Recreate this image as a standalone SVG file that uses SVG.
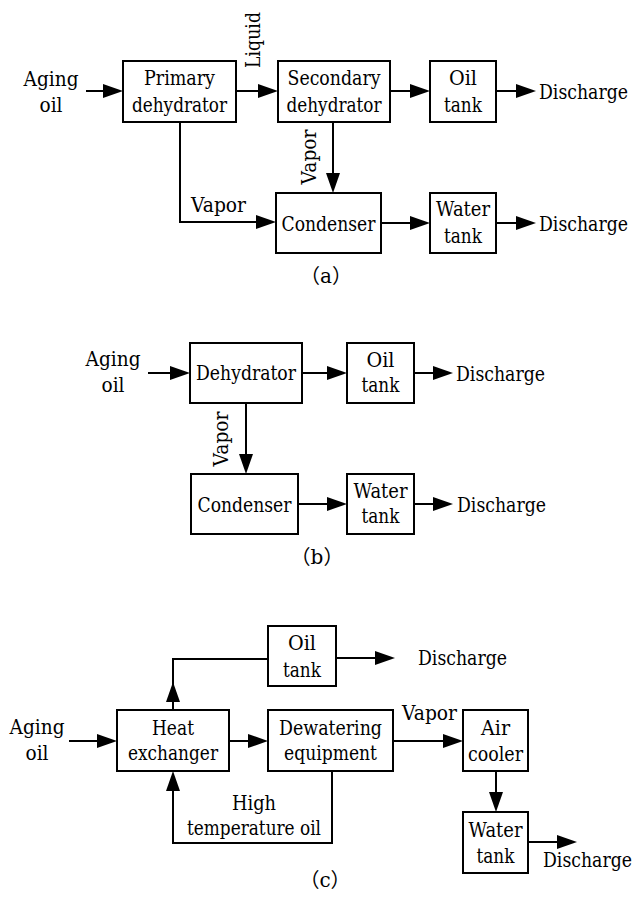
<svg xmlns="http://www.w3.org/2000/svg" width="637" height="900" viewBox="0 0 637 900">
<style>
.box{fill:#fff;stroke:#000;stroke-width:2}
.t{font-family:"DejaVu Serif",serif;font-size:20px;fill:#000;text-anchor:middle}
.s{text-anchor:start}
.cap{font-family:"DejaVu Serif","Noto Sans CJK SC",serif;font-size:20px;fill:#000;text-anchor:middle}
.c{fill:none;stroke:#000;stroke-width:2}
.a{marker-end:url(#ah)}
</style>
<defs>
<marker id="ah" markerUnits="userSpaceOnUse" markerWidth="20" markerHeight="14" viewBox="0 0 20 14" refX="17" refY="7" orient="auto">
<path d="M0,0 L20,7 L0,14 z" fill="#000"/>
</marker>
</defs>
<rect width="637" height="900" fill="#fff"/>

<g id="connectors">
<path class="c a" d="M86,91 H120"/>
<path class="c a" d="M236,91 H275"/>
<path class="c a" d="M390,91 H427"/>
<path class="c a" d="M496,91 H533"/>
<path class="c a" d="M180,122 V222 H273"/>
<path class="c a" d="M333,122 V190"/>
<path class="c a" d="M381,223 H427"/>
<path class="c a" d="M496,223 H533"/>
<path class="c a" d="M148,373 H187"/>
<path class="c a" d="M302,373 H344"/>
<path class="c a" d="M414,373 H450"/>
<path class="c a" d="M246,403 V471"/>
<path class="c a" d="M298,504 H344"/>
<path class="c a" d="M414,504 H450"/>
<path class="c a" d="M69,741 H114"/>
<path class="c a" d="M229,741 H265"/>
<path class="c a" d="M393,741 H460"/>
<path class="c" d="M173,710 V659 H268"/>
<path class="c a" d="M173,700 V685"/>
<path class="c a" d="M336,658 H392"/>
<path class="c a" d="M332,771 V843 H173 V774"/>
<path class="c a" d="M496,771 V809"/>
<path class="c a" d="M528,842 H574"/>
</g>

<g id="labels">
<text class="t" x="51" y="86" textLength="55" lengthAdjust="spacingAndGlyphs">Aging</text>
<text class="t" x="51" y="112" textLength="23" lengthAdjust="spacingAndGlyphs">oil</text>
<text class="t" transform="translate(260,40) rotate(-90)" textLength="56" lengthAdjust="spacingAndGlyphs">Liquid</text>
<text class="t" transform="translate(316,157) rotate(-90)" textLength="55" lengthAdjust="spacingAndGlyphs">Vapor</text>
<text class="t s" x="191" y="212" textLength="55" lengthAdjust="spacingAndGlyphs">Vapor</text>
<text class="t s" x="539" y="99" textLength="89" lengthAdjust="spacingAndGlyphs">Discharge</text>
<text class="t s" x="539" y="231" textLength="89" lengthAdjust="spacingAndGlyphs">Discharge</text>
<text class="cap" x="326" y="283">（a）</text>

<text class="t" x="113" y="366" textLength="55" lengthAdjust="spacingAndGlyphs">Aging</text>
<text class="t" x="113" y="392" textLength="23" lengthAdjust="spacingAndGlyphs">oil</text>
<text class="t" transform="translate(228,439) rotate(-90)" textLength="55" lengthAdjust="spacingAndGlyphs">Vapor</text>
<text class="t s" x="456" y="381" textLength="89" lengthAdjust="spacingAndGlyphs">Discharge</text>
<text class="t s" x="457" y="512" textLength="89" lengthAdjust="spacingAndGlyphs">Discharge</text>
<text class="cap" x="317" y="564">（b）</text>

<text class="t" x="37" y="734" textLength="55" lengthAdjust="spacingAndGlyphs">Aging</text>
<text class="t" x="37" y="760" textLength="23" lengthAdjust="spacingAndGlyphs">oil</text>
<text class="t s" x="418" y="665" textLength="89" lengthAdjust="spacingAndGlyphs">Discharge</text>
<text class="t s" x="402" y="720" textLength="55" lengthAdjust="spacingAndGlyphs">Vapor</text>
<text class="t" x="254" y="810" textLength="44" lengthAdjust="spacingAndGlyphs">High</text>
<text class="t" x="254" y="835" textLength="134" lengthAdjust="spacingAndGlyphs">temperature oil</text>
<text class="t s" x="543" y="867" textLength="89" lengthAdjust="spacingAndGlyphs">Discharge</text>
<text class="cap" x="325" y="887">（c）</text>
</g>

<g id="a-primary"><rect class="box" x="123" y="61" width="113" height="61"/><text class="t" x="179.5" y="85" textLength="71" lengthAdjust="spacingAndGlyphs">Primary</text><text class="t" x="179.5" y="112" textLength="95" lengthAdjust="spacingAndGlyphs">dehydrator</text></g>
<g id="a-secondary"><rect class="box" x="278" y="61" width="112" height="61"/><text class="t" x="334" y="85" textLength="93" lengthAdjust="spacingAndGlyphs">Secondary</text><text class="t" x="334" y="112" textLength="95" lengthAdjust="spacingAndGlyphs">dehydrator</text></g>
<g id="a-oiltank"><rect class="box" x="430" y="61" width="66" height="61"/><text class="t" x="463" y="85" textLength="28" lengthAdjust="spacingAndGlyphs">Oil</text><text class="t" x="463" y="112" textLength="38" lengthAdjust="spacingAndGlyphs">tank</text></g>
<g id="a-condenser"><rect class="box" x="276" y="193" width="105" height="60"/><text class="t" x="328.5" y="231" textLength="94" lengthAdjust="spacingAndGlyphs">Condenser</text></g>
<g id="a-watertank"><rect class="box" x="430" y="193" width="66" height="60"/><text class="t" x="463" y="216" textLength="54" lengthAdjust="spacingAndGlyphs">Water</text><text class="t" x="463" y="243" textLength="38" lengthAdjust="spacingAndGlyphs">tank</text></g>

<g id="b-dehydrator"><rect class="box" x="190" y="343" width="112" height="60"/><text class="t" x="246" y="380" textLength="100" lengthAdjust="spacingAndGlyphs">Dehydrator</text></g>
<g id="b-oiltank"><rect class="box" x="347" y="343" width="67" height="60"/><text class="t" x="380.5" y="367" textLength="28" lengthAdjust="spacingAndGlyphs">Oil</text><text class="t" x="380.5" y="392" textLength="38" lengthAdjust="spacingAndGlyphs">tank</text></g>
<g id="b-condenser"><rect class="box" x="191" y="474" width="107" height="60"/><text class="t" x="244.5" y="512" textLength="94" lengthAdjust="spacingAndGlyphs">Condenser</text></g>
<g id="b-watertank"><rect class="box" x="347" y="474" width="67" height="60"/><text class="t" x="380.5" y="498" textLength="54" lengthAdjust="spacingAndGlyphs">Water</text><text class="t" x="380.5" y="523" textLength="38" lengthAdjust="spacingAndGlyphs">tank</text></g>

<g id="c-oiltank"><rect class="box" x="268" y="626" width="68" height="60"/><text class="t" x="302" y="650" textLength="28" lengthAdjust="spacingAndGlyphs">Oil</text><text class="t" x="302" y="677" textLength="38" lengthAdjust="spacingAndGlyphs">tank</text></g>
<g id="c-heatexchanger"><rect class="box" x="117" y="710" width="112" height="61"/><text class="t" x="173" y="735" textLength="42" lengthAdjust="spacingAndGlyphs">Heat</text><text class="t" x="173" y="760" textLength="90" lengthAdjust="spacingAndGlyphs">exchanger</text></g>
<g id="c-dewatering"><rect class="box" x="268" y="710" width="125" height="61"/><text class="t" x="330.5" y="735" textLength="103" lengthAdjust="spacingAndGlyphs">Dewatering</text><text class="t" x="330.5" y="760" textLength="93" lengthAdjust="spacingAndGlyphs">equipment</text></g>
<g id="c-aircooler"><rect class="box" x="463" y="710" width="65" height="61"/><text class="t" x="495.5" y="735" textLength="29" lengthAdjust="spacingAndGlyphs">Air</text><text class="t" x="495.5" y="761" textLength="55" lengthAdjust="spacingAndGlyphs">cooler</text></g>
<g id="c-watertank"><rect class="box" x="463" y="812" width="65" height="61"/><text class="t" x="495.5" y="837" textLength="54" lengthAdjust="spacingAndGlyphs">Water</text><text class="t" x="495.5" y="863" textLength="38" lengthAdjust="spacingAndGlyphs">tank</text></g>
</svg>
